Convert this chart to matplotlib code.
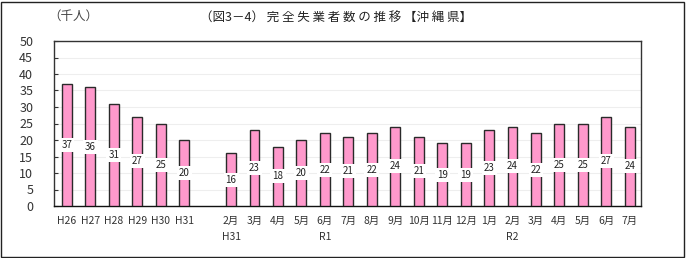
import matplotlib
matplotlib.use("Agg")
import matplotlib.pyplot as plt
from matplotlib.patches import Rectangle

plt.rcParams['font.family'] = ['Noto Sans CJK JP', 'DejaVu Sans']

categories = ["H26", "H27", "H28", "H29", "H30", "H31", "",
              "2月\nH31", "3月", "4月", "5月", "6月\nR1", "7月", "8月", "9月",
              "10月", "11月", "12月", "1月", "2月\nR2", "3月", "4月", "5月", "6月", "7月"]
values = [37, 36, 31, 27, 25, 20, None,
          16, 23, 18, 20, 22, 21, 22, 24, 21, 19, 19, 23, 24, 22, 25, 25, 27, 24]
yticks = [0, 5, 10, 15, 20, 25, 30, 35, 40, 45, 50]
title = "（図3－4） 完 全 失 業 者 数 の 推 移 【沖 縄 県】"
unit = "（千人）"

W, H = 686, 258
fig = plt.figure(figsize=(W / 100, H / 100), dpi=100)
fig.patch.set_facecolor("white")

# outer frame
fig.add_artist(Rectangle((1 / W, 1 / H), 1 - 3 / W, 1 - 3 / H, transform=fig.transFigure,
                         fill=False, edgecolor="#222222", linewidth=1.0))

left, right, top, bottom = 54, 641, 41, 206
ax = fig.add_axes([left / W, 1 - bottom / H, (right - left) / W, (bottom - top) / H])

xs = list(range(len(categories)))
bx = [x for x, v in zip(xs, values) if v is not None]
bv = [v for v in values if v is not None]
ax.bar(bx, bv, width=0.42, color="#FF99CC", edgecolor="#2a2a2a", linewidth=1.0, zorder=3)

for x, v in zip(bx, bv):
    ax.text(x, v / 2, str(v), ha="center", va="center", fontsize=7, color="#222222",
            zorder=4, bbox=dict(facecolor="white", edgecolor="none", pad=1.5))

ax.set_ylim(0, 50)
ax.set_xlim(-0.55, len(categories) - 0.52)
ax.set_yticks(yticks)
ax.set_yticklabels([str(t) for t in yticks], fontsize=9, color="#333333")
ax.set_xticks(xs)
ax.set_xticklabels(categories, fontsize=7.5, color="#333333", linespacing=1.75, va="top")
ax.tick_params(axis="x", length=0, pad=7)
ax.tick_params(axis="y", direction="in", length=3, pad=15, color="#333333")
for lab in ax.get_yticklabels():
    lab.set_horizontalalignment("right")
ax.yaxis.grid(True, color="#eeeeee", linewidth=0.8, zorder=0)
ax.set_axisbelow(True)
for s in ax.spines.values():
    s.set_color("#333333")
    s.set_linewidth(1.0)
ax.spines["bottom"].set_color("#111111")

fig.text(336 / W, 1 - 18 / H, title, ha="center", va="center", fontsize=9, color="#222222")
fig.text(73 / W, 1 - 16 / H, unit, ha="center", va="center", fontsize=9, color="#444444")

fig.savefig("out.png", dpi=100, facecolor="white")
